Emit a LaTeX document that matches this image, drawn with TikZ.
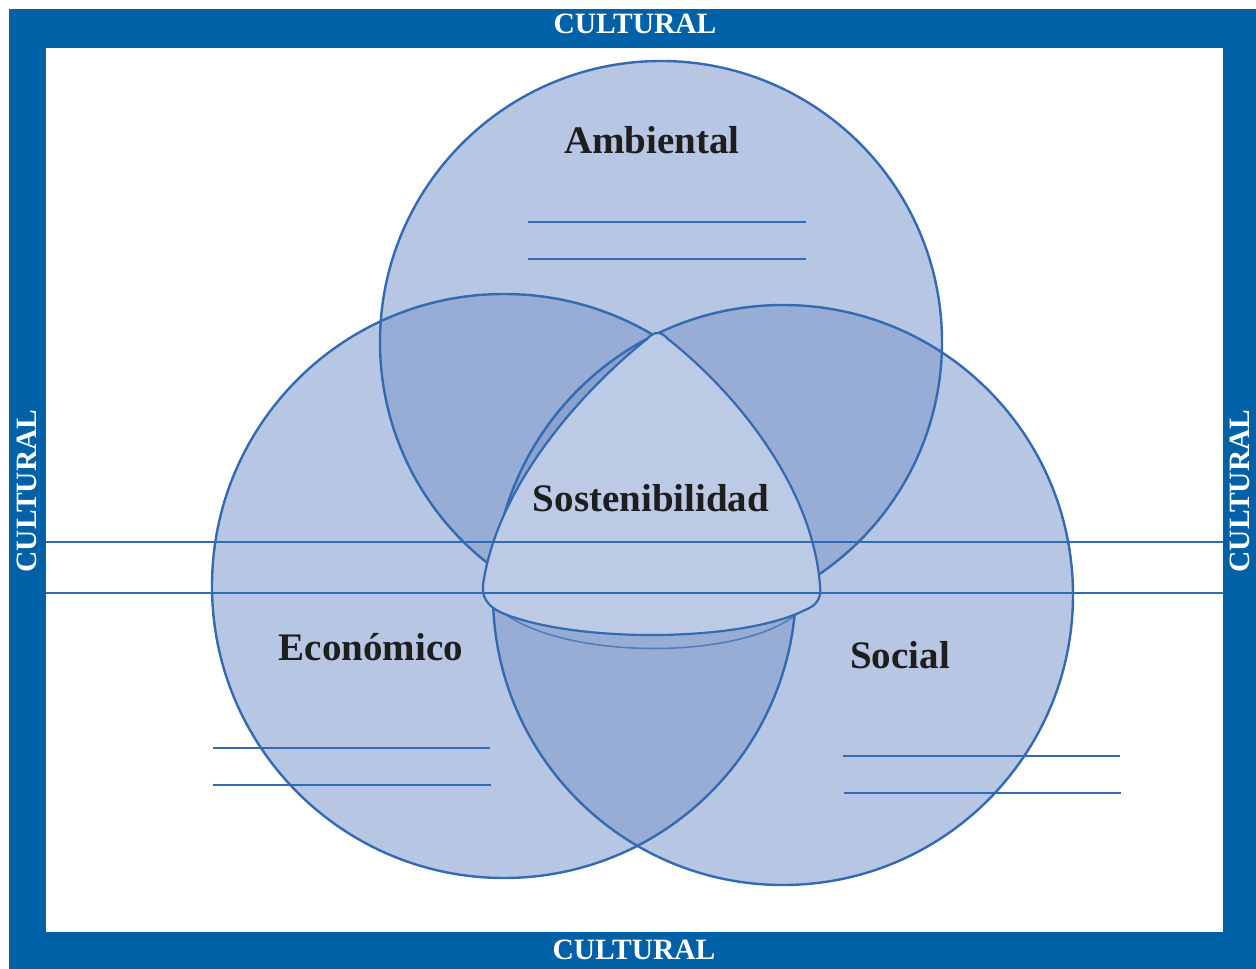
\documentclass[tikz,border=0pt]{standalone}
\usepackage{fontspec}
\setmainfont{Liberation Serif}
\begin{document}
\begin{tikzpicture}[x=1pt,y=-1pt,
  framecol/.style={fill=frameblue},
  circ/.style={fill=circblue,fill opacity=0.556},
  circline/.style={draw=lineblue,line width=2.4pt},
  rule/.style={draw=lineblue,line width=2.2pt},
  lbl/.style={text=labelgray,font=\bfseries\fontsize{39}{44}\selectfont,anchor=base,inner sep=0pt},
  cult/.style={text=white,font=\bfseries\fontsize{29.5}{34}\selectfont,inner sep=0pt}]
\definecolor{frameblue}{RGB}{0,97,166}
\definecolor{circblue}{RGB}{126,154,205}
\definecolor{lineblue}{RGB}{52,106,178}
\definecolor{sosfill}{RGB}{188,202,229}
\definecolor{labelgray}{RGB}{30,30,30}
\useasboundingbox (0,0) rectangle (1256,969);
% frame
\fill[white] (0,0) rectangle (1256,969);
\fill[framecol] (9,9) rectangle (1256,969);
\fill[white] (46,48) rectangle (1223,932);
% circles
\fill[circ] (661,342) circle[radius=281pt];
\fill[circ] (504,586) circle[radius=292pt];
\fill[circ] (783,595) circle[radius=290pt];
\draw[circline] (661,342) circle[radius=281pt];
\draw[circline] (504,586) circle[radius=292pt];
\draw[circline] (783,595) circle[radius=290pt];
% sostenibilidad shape
\draw[lineblue,line width=1.6pt,opacity=0.7] (505,614) .. controls (570,660) and (740,660) .. (797,614);
\path[fill=sosfill,draw=lineblue,line width=2.2pt]
  (647,339) .. controls (654,331) and (661,331) .. (668,339)
  .. controls (735,392) and (812,485) .. (820,585)
  .. controls (822,600) and (815,606) .. (805,610)
  .. controls (740,643) and (570,643) .. (500,612)
  .. controls (488,606) and (482,598) .. (483,585)
  .. controls (497,485) and (583,390) .. (647,339) -- cycle;
% horizontal lines
\coordinate (h1l) at (46,542); \coordinate (h1r) at (1223,542);
\coordinate (h2l) at (46,593); \coordinate (h2r) at (1223,593);
\draw[rule] (h1l) -- (h1r);
\draw[rule] (h2l) -- (h2r);
% short lines
\coordinate (a1l) at (528,222); \coordinate (a1r) at (806,222);
\coordinate (a2l) at (528,259); \coordinate (a2r) at (806,259);
\coordinate (e1l) at (213,748); \coordinate (e1r) at (490,748);
\coordinate (e2l) at (213,785); \coordinate (e2r) at (491,785);
\coordinate (s1l) at (843,756); \coordinate (s1r) at (1120,756);
\coordinate (s2l) at (844,793); \coordinate (s2r) at (1121,793);
\draw[rule] (a1l) -- (a1r); \draw[rule] (a2l) -- (a2r);
\draw[rule] (e1l) -- (e1r); \draw[rule] (e2l) -- (e2r);
\draw[rule] (s1l) -- (s1r); \draw[rule] (s2l) -- (s2r);
% labels
\node[lbl] (amb) at (652,153) {Ambiental};
\node[lbl] (sos) at (651,511) {Sostenibilidad};
\node[lbl] (eco) at (371,660) {Económico};
\node[lbl] (soc) at (900,668) {Social};
% cultural
\node[cult] (ct) at (635,24) {CULTURAL};
\node[cult] (cb) at (634,950) {CULTURAL};
\node[cult,rotate=90] (cl) at (27,491) {CULTURAL};
\node[cult,rotate=90] (cr) at (1240,491) {CULTURAL};
\end{tikzpicture}
\end{document}
